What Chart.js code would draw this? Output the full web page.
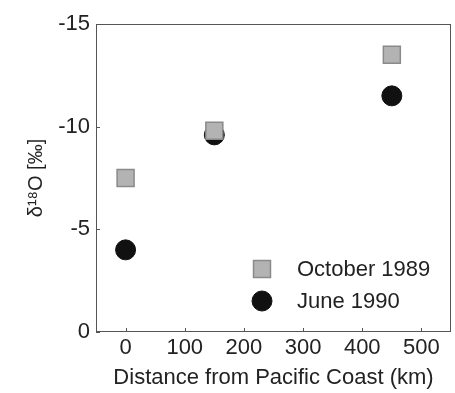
<!DOCTYPE html>
<html>
<head>
<meta charset="utf-8">
<script src="https://cdn.jsdelivr.net/npm/chart.js@4/dist/chart.umd.min.js"></script>
<style>
    html, body { margin: 0; padding: 0; background: #fff; overflow: hidden; }
    .chart-container { position: relative; width: 455px; height: 393px; }
    canvas { display: block; }
</style>
</head>
<body>
<div class="chart-container"><canvas id="chart"></canvas></div>
<script>

// distance from coast (km) and delta 18O values (permil)
const distances = [ 0, 150, 450 ];
const october1989 = [ -7.5, -9.8, -13.5 ];
const june1990 = [ -4.0, -9.6, -11.5 ];
const seriesLabels = [ 'October 1989', 'June 1990' ];
const xTicks = [ 0, 100, 200, 300, 400, 500 ];
const yTicks = [ -15, -10, -5, 0 ];

const textColor = '#222';
const frameColor = '#555';

// full box round the plot plus short inward tick marks
const framePlugin = {
    id: 'frame',
    afterDraw ( chart ) {
        const { ctx, chartArea: a, scales } = chart;
        ctx.save();
        ctx.strokeStyle = frameColor;
        ctx.lineWidth = 1;
        ctx.strokeRect( a.left + 0.5, a.top + 0.5, a.right - a.left - 1, a.bottom - a.top - 1 );
        ctx.beginPath();
        xTicks.forEach( v => {
            const x = Math.round( scales.x.getPixelForValue( v ) ) + 0.5;
            ctx.moveTo( x, a.bottom ); ctx.lineTo( x, a.bottom - 4 );
        } );
        yTicks.forEach( v => {
            const y = Math.round( scales.y.getPixelForValue( v ) ) + 0.5;
            ctx.moveTo( a.left, y ); ctx.lineTo( a.left + 4, y );
        } );
        ctx.stroke();
        ctx.restore();
    }
};

// legend drawn inside the plot, bottom right
const insideLegend = {
    id: 'insideLegend',
    afterDraw ( chart ) {
        const { ctx } = chart;
        const rows = [ 269, 301 ];
        ctx.save();
        chart.data.datasets.forEach( ( ds, i ) => {
            const y = rows[ i ];
            ctx.fillStyle = ds.backgroundColor;
            ctx.strokeStyle = ds.borderColor;
            ctx.lineWidth = ds.borderWidth;
            Chart.helpers.drawPoint( ctx, {
                pointStyle: ds.pointStyle,
                radius: ds.pointRadius,
                borderWidth: ds.borderWidth
            }, 262, y );
            ctx.fillStyle = textColor;
            ctx.font = '22px "Liberation Sans", Arial, sans-serif';
            ctx.textBaseline = 'middle';
            ctx.textAlign = 'left';
            ctx.fillText( ds.label, 297, y + 1 );
        } );
        ctx.restore();
    }
};

document.addEventListener( 'DOMContentLoaded', function () {

    Chart.defaults.animation = false;
    Chart.defaults.font.family = '"Liberation Sans", Arial, sans-serif';
    Chart.defaults.color = textColor;

    const points = ( ys ) => distances.map( ( x, i ) => ( { x, y: ys[ i ] } ) );

    new Chart( document.getElementById( 'chart' ), {
        type: 'scatter',
        data: {
            datasets: [ {
                label: seriesLabels[ 0 ],
                data: points( october1989 ),
                pointStyle: 'rect',
                pointRadius: 12,
                pointHoverRadius: 12,
                backgroundColor: '#b3b3b3',
                borderColor: '#8a8a8a',
                borderWidth: 1.5
            }, {
                label: seriesLabels[ 1 ],
                data: points( june1990 ),
                pointStyle: 'circle',
                pointRadius: 10,
                pointHoverRadius: 10,
                backgroundColor: '#111',
                borderColor: '#111',
                borderWidth: 1
            } ]
        },
        options: {
            responsive: true,
            maintainAspectRatio: false,
            layout: { autoPadding: false, padding: { top: 24, right: 4, left: 0, bottom: 0 } },
            plugins: {
                legend: { display: false },
                tooltip: { enabled: false }
            },
            scales: {
                x: {
                    type: 'linear',
                    min: -50, max: 550,
                    afterBuildTicks: s => { s.ticks = xTicks.map( value => ( { value } ) ); },
                    afterFit: s => { s.height = 61; s.paddingLeft = 0; s.paddingRight = 0; },
                    grid: { display: false, drawTicks: false },
                    border: { display: false },
                    ticks: { padding: 3, font: { size: 22 }, color: textColor },
                    title: {
                        display: true,
                        text: 'Distance from Pacific Coast (km)',
                        font: { size: 22 },
                        color: textColor,
                        padding: { top: 0, bottom: 2 }
                    }
                },
                y: {
                    type: 'linear',
                    reverse: true,
                    min: -15, max: 0,
                    afterBuildTicks: s => { s.ticks = yTicks.map( value => ( { value } ) ); },
                    afterFit: s => { s.width = 96; s.paddingTop = 0; s.paddingBottom = 0; },
                    grid: { display: false, drawTicks: false },
                    border: { display: false },
                    ticks: { padding: 6, font: { size: 22 }, color: textColor },
                    title: {
                        display: true,
                        text: 'δ¹⁸O [‰]',
                        font: { size: 20 },
                        color: textColor,
                        padding: { top: 24, bottom: 0 }
                    }
                }
            }
        },
        plugins: [ framePlugin, insideLegend ]
    } );

} );
</script>
</body>
</html>
